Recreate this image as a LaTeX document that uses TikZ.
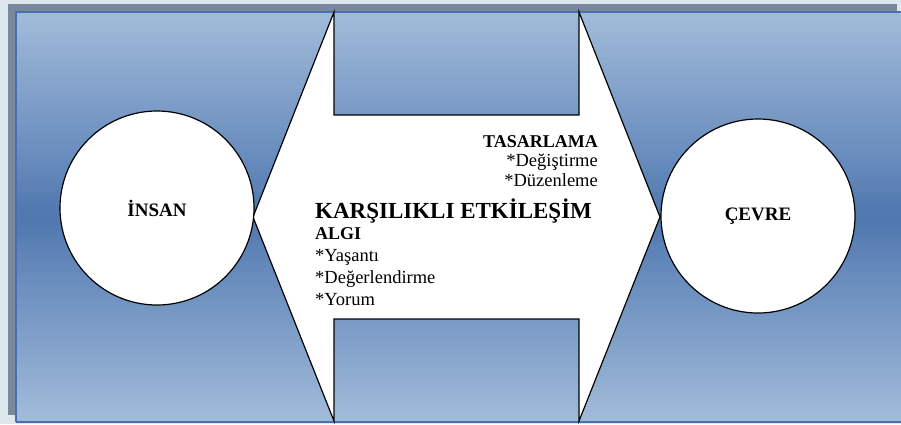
\documentclass[tikz,border=0pt]{standalone}
\usepackage{fontspec}
\setmainfont{Liberation Serif}
\definecolor{paleback}{RGB}{222,230,237}
\definecolor{framegray}{RGB}{122,136,156}
\definecolor{frameblue}{RGB}{72,112,176}
\definecolor{skylight}{RGB}{162,188,218}
\definecolor{skydark}{RGB}{80,120,176}
\tikzset{
  bubble/.style={circle, draw=black, line width=1.2pt, fill=white,
    minimum size=194pt, inner sep=0pt, font=\bfseries\fontsize{19}{22}\selectfont},
  line/.style={inner sep=0pt, font=\fontsize{18.5}{20}\selectfont},
  head/.style={inner sep=0pt, font=\bfseries\fontsize{18}{20}\selectfont},
}

\begin{document}
\begin{tikzpicture}[x=1pt,y=-1pt]
		\useasboundingbox (0,0) rectangle (901,424);
		% Draw background, shadow and shaded frame
		\fill[paleback] (0,0) rectangle (901,424);
		\fill[framegray] (8,4) rectangle (897,415);
		\begin{scope}
			\clip (0,0) rectangle (901,424);
			\foreach \i in {0,...,81}
			{\pgfmathtruncatemacro{\mix}{abs(5*\i+2.5-205)/2.05}
				\fill[skylight!\mix!skydark] (16,12+5*\i) rectangle (906,17.6+5*\i);}
			\draw[frameblue, line width=1.5pt] (16,422) -- (16,12) -- (906,12);
			\draw[frameblue, line width=1.5pt] (16,422) -- (906,422);
		\end{scope}
		% Draw the double arrow
		\coordinate (ltip) at (253,217);
		\coordinate (rtip) at (660,217);
		\draw[line width=1.2pt, fill=white, line join=miter]
			(ltip) -- (334,12) -- (334,115) -- (579,115) -- (579,12) -- (rtip)
			-- (579,421) -- (579,319) -- (334,319) -- (334,421) -- cycle;
		% Draw the two circles
		\node[bubble] (insan) at (157,208) {İNSAN};
		\node[bubble] (cevre) at (758,216) {ÇEVRE};
		% Draw the texts inside the arrow
		\node[head, anchor=base east] (tasarlama) at (598,147) {TASARLAMA};
		\foreach \y/\txt in {166/*Değiştirme, 186/*Düzenleme}
		{\node[line, anchor=base east] (r\y) at (598,\y) {\txt};}
		\node[inner sep=0pt, anchor=base west, font=\bfseries\fontsize{23}{25}\selectfont]
			(etkilesim) at (315,218) {KARŞILIKLI ETKİLEŞİM};
		\node[head, anchor=base west] (algi) at (315,239) {ALGI};
		\foreach \y/\txt in {261/*Yaşantı, 283/*Değerlendirme, 305/*Yorum}
		{\node[line, anchor=base west] (l\y) at (315,\y) {\txt};}
	\end{tikzpicture}
\end{document}
